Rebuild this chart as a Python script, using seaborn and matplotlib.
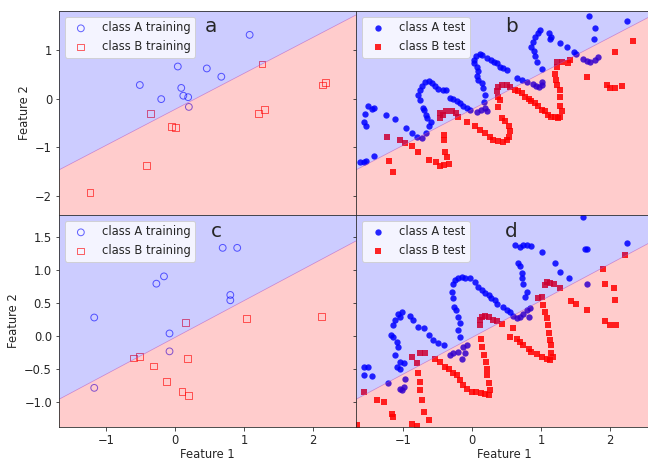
import numpy as np
import matplotlib
matplotlib.use("Agg")
import matplotlib.pyplot as plt
import seaborn as sns

# ---- training sets (Feature 1, Feature 2) ----
train_a_A_x = [-0.51, -0.20, 0.04, 0.09, 0.12, 0.19, 0.20, 0.46, 0.67, 1.08]
train_a_A_y = [0.28, -0.01, 0.66, 0.22, 0.06, 0.03, -0.17, 0.62, 0.45, 1.31]
train_a_B_x = [-1.23, -0.41, -0.35, -0.05, 0.01, 1.26, 1.21, 1.29, 2.14, 2.18]
train_a_B_y = [-1.92, -1.37, -0.31, -0.57, -0.59, 0.71, -0.31, -0.23, 0.28, 0.33]

train_c_A_x = [-1.17, -1.17, -0.27, -0.16, -0.08, -0.08, 0.69, 0.90, 0.80, 0.80]
train_c_A_y = [0.28, -0.78, 0.79, 0.90, 0.04, -0.23, 1.33, 1.33, 0.62, 0.54]
train_c_B_x = [-0.60, -0.52, -0.31, -0.12, 0.10, 0.20, 0.15, 0.18, 1.04, 2.12]
train_c_B_y = [-0.33, -0.31, -0.45, -0.68, -0.84, -0.89, 0.20, -0.34, 0.27, 0.30]

# ---- test sets (Feature 1, Feature 2) ----
test_b_A = [
    (-1.62, -1.30), (-1.56, -1.30), (-1.53, -1.29), (-1.42, -1.17),
    (-1.55, -0.32), (-1.57, -0.47), (-1.53, -0.57), (-1.50, -0.16), (-1.45, -0.22),
    (-1.42, -0.20), (-1.25, -0.33), (-1.12, -0.42), (-0.96, -0.61), (-0.87, -0.70),
    (-0.80, -0.78), (-0.73, -0.80), (-0.67, -0.71), (-0.62, -0.57), (-0.60, -0.47),
    (-0.69, -0.24), (-0.67, -0.33), (-0.65, -0.40), (-0.71, -0.20), (-0.76, -0.02),
    (-0.78, 0.08), (-0.75, 0.18), (-0.73, 0.26), (-0.68, 0.35), (-0.63, 0.37),
    (-0.58, 0.33), (-0.54, 0.26), (-0.49, 0.19), (-0.42, 0.17), (-0.37, 0.18),
    (-0.32, 0.01), (-0.27, -0.01), (-0.22, -0.04), (-0.17, -0.09), (-0.13, -0.15),
    (-0.08, -0.20), (-0.03, -0.23), (0.07, -0.28), (0.13, -0.23), (0.19, -0.20),
    (0.21, -0.26), (0.17, -0.06), (0.19, 0.08), (0.16, 0.21), (0.14, 0.32),
    (0.09, 0.39), (0.07, 0.47), (0.08, 0.56), (0.07, 0.66), (0.03, 0.73),
    (0.03, 0.80), (0.06, 0.87), (0.11, 0.92), (0.15, 0.90), (0.21, 0.83),
    (0.27, 0.80), (0.32, 0.76), (0.36, 0.73), (0.41, 0.66), (0.45, 0.63),
    (0.50, 0.59), (0.65, 0.42), (0.72, 0.39), (0.79, 0.35), (0.88, 0.30),
    (0.93, 0.26), (0.97, 0.24), (1.01, 0.28), (1.02, 0.35), (1.01, 0.61),
    (0.94, 0.76), (0.91, 0.88), (0.89, 0.97), (0.86, 1.07), (0.88, 1.17),
    (0.91, 1.26), (0.95, 1.34), (0.99, 1.40), (1.12, 1.34), (1.15, 1.26),
    (1.13, 1.22), (1.27, 1.15), (1.38, 1.07), (1.47, 0.95), (1.51, 0.92),
    (1.61, 0.81), (1.66, 0.78), (1.71, 0.76), (1.78, 0.80), (1.83, 0.85),
    (1.77, 1.22), (1.78, 1.45), (1.70, 1.70), (2.24, 1.60),
]
test_b_B = [
    (-1.23, -0.79), (-1.20, -1.28), (-1.15, -1.50), (-1.05, -0.85), (-0.97, -0.91),
    (-0.87, -0.98), (-0.78, -1.09), (-0.63, -1.26), (-0.52, -1.31), (-0.46, -1.39),
    (-0.41, -1.36), (-0.33, -1.34), (-0.36, -1.19), (-0.39, -1.09), (-0.40, -0.85),
    (-0.40, -0.74), (-0.47, -0.40), (-0.42, -0.33), (-0.37, -0.26), (-0.29, -0.26),
    (-0.23, -0.30), (-0.20, -0.37), (-0.46, -0.30), (-0.08, -0.47), (0.04, -0.57),
    (0.12, -0.64), (0.19, -0.71), (0.26, -0.78), (0.31, -0.85), (0.38, -0.88),
    (0.45, -0.90), (0.50, -0.85), (0.54, -0.78), (0.55, -0.67), (0.53, -0.56),
    (0.48, -0.45), (0.43, -0.40), (0.38, -0.18), (0.41, -0.02), (0.38, 0.04),
    (0.36, 0.15), (0.38, 0.24), (0.44, 0.28), (0.50, 0.28), (0.55, 0.24),
    (0.62, 0.18), (0.67, 0.15), (0.72, 0.11), (0.77, 0.04), (0.82, -0.01),
    (0.86, -0.05), (0.91, -0.09), (0.96, -0.16), (1.01, -0.23), (1.06, -0.26),
    (1.10, -0.33), (1.15, -0.37), (1.20, -0.38), (1.25, -0.40), (1.28, -0.37),
    (1.30, -0.26), (1.28, -0.16), (1.27, 0.04), (1.28, 0.18), (1.23, 0.28),
    (1.22, 0.39), (1.20, 0.51), (1.23, 0.66), (1.23, 0.76), (1.30, 0.76),
    (1.39, 0.73), (1.42, 0.80), (1.67, 0.45), (2.07, 0.95), (2.33, 1.19),
    (1.95, 0.28), (2.00, 0.21), (2.07, 0.21), (2.17, 0.26),
]
test_d_A = [
    (-1.56, -0.46), (-1.50, -0.46), (-1.57, -0.59), (-1.45, -0.60), (-1.21, -0.70),
    (-1.05, -0.80), (-0.99, -0.76), (-1.02, -0.81), (-0.97, -0.64), (-1.11, 0.24),
    (-1.07, 0.34), (-1.02, 0.37), (-1.04, 0.29), (-1.14, 0.17), (-1.18, 0.02),
    (-1.14, -0.01), (-1.09, -0.09), (-1.07, -0.16), (-1.11, -0.29), (-1.04, -0.39),
    (-0.99, -0.41), (-1.05, -0.49), (-1.09, -0.46), (-0.90, 0.30), (-0.85, 0.24),
    (-0.78, 0.14), (-0.70, 0.12), (-0.63, 0.02), (-0.56, -0.06), (-0.50, -0.10),
    (-0.41, -0.14), (-0.32, -0.29), (-0.27, -0.26), (-0.20, -0.24), (-0.13, -0.16),
    (-0.08, -0.14), (-0.10, -0.26), (-0.15, -0.34), (-0.17, -0.01), (-0.20, 0.09),
    (-0.17, 0.19), (-0.20, 0.29), (-0.23, 0.39), (-0.26, 0.44), (-0.27, 0.57),
    (-0.29, 0.67), (-0.27, 0.79), (-0.25, 0.84), (-0.20, 0.87), (-0.15, 0.89),
    (-0.10, 0.87), (-0.03, 0.87), (0.04, 0.82), (0.09, 0.74), (0.14, 0.69),
    (0.19, 0.65), (0.24, 0.62), (0.28, 0.58), (0.33, 0.54), (0.36, 0.49),
    (0.45, 0.44), (0.50, 0.39), (0.55, 0.37), (0.60, 0.30), (0.65, 0.27),
    (0.69, 0.29), (0.74, 0.34), (0.79, 0.39), (0.84, 0.42), (0.82, 0.29),
    (0.77, 0.59), (0.79, 0.67), (0.74, 0.79), (0.72, 0.87), (0.73, 0.95),
    (0.69, 1.05), (0.67, 1.10), (0.62, 1.37), (0.69, 1.35), (0.74, 1.37),
    (0.79, 1.37), (0.86, 1.36), (1.01, 1.26), (1.20, 1.10), (1.28, 0.96),
    (1.41, 0.88), (1.64, 1.31), (1.66, 1.32), (1.66, 0.79), (1.60, 1.79),
    (2.24, 1.41),
]
test_d_B = [
    (-1.67, -1.34), (-1.56, -0.84), (-1.38, -0.96), (-1.28, -0.99), (-1.16, -1.17),
    (-1.14, -1.22), (-0.87, -0.31), (-0.80, -0.41), (-0.75, -0.26), (-0.68, -0.26),
    (-0.78, -0.56), (-0.75, -0.69), (-0.75, -0.81), (-0.73, -0.97), (-0.70, -1.14),
    (-0.63, -1.26), (-0.87, -1.32), (-0.80, -1.36), (-0.54, -0.34), (-0.46, -0.39),
    (-0.39, -0.46), (-0.33, -0.50), (-0.27, -0.56), (-0.22, -0.59), (-0.17, -0.66),
    (-0.13, -0.74), (-0.07, -0.79), (0.00, -0.84), (0.06, -0.85), (0.13, -0.86),
    (0.19, -0.87), (0.25, -0.89), (0.26, -0.81), (0.24, -0.71), (0.22, -0.59),
    (0.21, -0.49), (0.20, -0.39), (0.17, -0.29), (0.15, -0.16), (0.13, -0.04),
    (0.12, 0.17), (0.11, 0.24), (0.14, 0.29), (0.19, 0.30), (0.24, 0.29),
    (0.30, 0.25), (0.36, 0.22), (0.43, 0.18), (0.60, 0.12), (0.55, -0.01),
    (0.65, -0.04), (0.69, -0.09), (0.74, -0.14), (0.82, -0.19), (0.86, -0.24),
    (0.94, -0.27), (1.01, -0.31), (1.08, -0.35), (1.13, -0.36), (1.17, -0.31),
    (1.15, -0.26), (1.15, -0.14), (1.13, -0.06), (1.12, 0.04), (1.10, 0.17),
    (1.08, 0.27), (1.06, 0.37), (1.03, 0.47), (1.01, 0.59), (0.96, 0.58),
    (1.06, 0.77), (1.08, 0.82), (1.13, 0.80), (1.19, 0.79), (1.28, 0.72),
    (1.44, 0.53), (1.51, 0.49), (1.67, 0.39), (1.92, 0.22), (2.00, 0.17),
    (2.09, 0.17), (1.92, 0.79), (2.05, 0.73), (2.07, 0.54), (1.90, 1.01),
    (2.21, 1.22),
]

# linear decision boundaries: Feature 2 = slope * Feature 1 + intercept
boundary_top = (0.74, -0.22)
boundary_bottom = (0.555, -0.02)

xlim = (-1.68, 2.62)
ylim_top = (-2.39, 1.80)
ylim_bottom = (-1.37, 1.825)

FS = 11.5

sns.set_style("ticks")
plt.rcParams.update({
    "font.family": ["DejaVu Sans"],
    "axes.linewidth": 0.8,
    "axes.edgecolor": "0.15",
    "xtick.major.size": 3.5,
    "ytick.major.size": 3.5,
    "xtick.major.width": 0.8,
    "ytick.major.width": 0.8,
    "xtick.labelsize": FS,
    "ytick.labelsize": FS,
    "axes.labelsize": FS,
    "legend.fontsize": FS,
    "legend.framealpha": 0.8,
    "legend.edgecolor": "0.8",
    "legend.fancybox": True,
})

W, H = 648, 459
fig = plt.figure(figsize=(W / 72, H / 72), dpi=72)


def box(left, top, w, h):
    return [left / W, 1 - (top + h) / H, w / W, h / H]


ax_a = fig.add_axes(box(59, 11, 297, 204))
ax_b = fig.add_axes(box(356, 11, 297, 204))
ax_c = fig.add_axes(box(59, 215, 297, 212))
ax_d = fig.add_axes(box(356, 215, 297, 212))


def shade(ax, boundary, ylim):
    slope, intercept = boundary
    gx, gy = np.meshgrid(np.linspace(xlim[0], xlim[1], 500),
                         np.linspace(ylim[0], ylim[1], 500))
    score = gy - (slope * gx + intercept)
    ax.contourf(gx, gy, score, levels=[-100, 0, 100],
                colors=["red", "blue"], alpha=0.2, antialiased=True)
    ax.contour(gx, gy, score, levels=[0], colors=["#b050c0"],
               linewidths=0.7, alpha=0.6)


def training_panel(ax, ax_x, ax_y, bx, by):
    sns.scatterplot(x=ax_x, y=ax_y, ax=ax, marker="o", s=46, color="blue",
                    facecolor="none", edgecolor="blue", linewidth=1.0,
                    alpha=0.6, label="class A training")
    sns.scatterplot(x=bx, y=by, ax=ax, marker="s", s=46, color="red",
                    facecolor="none", edgecolor="red", linewidth=1.0,
                    alpha=0.6, label="class B training")


def test_panel(ax, pts_a, pts_b):
    ax_x, ax_y = zip(*pts_a)
    bx, by = zip(*pts_b)
    sns.scatterplot(x=list(ax_x), y=list(ax_y), ax=ax, marker="o", s=40,
                    color="blue", linewidth=0, alpha=0.85,
                    label="class A test")
    sns.scatterplot(x=list(bx), y=list(by), ax=ax, marker="s", s=36,
                    color="red", linewidth=0, alpha=0.85,
                    label="class B test")


training_panel(ax_a, train_a_A_x, train_a_A_y, train_a_B_x, train_a_B_y)
test_panel(ax_b, test_b_A, test_b_B)
training_panel(ax_c, train_c_A_x, train_c_A_y, train_c_B_x, train_c_B_y)
test_panel(ax_d, test_d_A, test_d_B)

panels = [
    (ax_a, boundary_top, ylim_top, "a", 0.492),
    (ax_b, boundary_top, ylim_top, "b", 0.503),
    (ax_c, boundary_bottom, ylim_bottom, "c", 0.51),
    (ax_d, boundary_bottom, ylim_bottom, "d", 0.50),
]
for ax, boundary, ylim, letter, lx in panels:
    shade(ax, boundary, ylim)
    ax.set_xlim(xlim)
    ax.set_ylim(ylim)
    ax.set_xticks([-1, 0, 1, 2])
    ax.legend(loc="upper left")
    ax.text(lx, 0.895, letter, transform=ax.transAxes, fontsize=20,
            ha="left", va="baseline")
    for side in ["top", "right", "left", "bottom"]:
        ax.spines[side].set_visible(True)

ax_a.set_yticks([-2, -1, 0, 1])
ax_c.set_yticks([-1.0, -0.5, 0.0, 0.5, 1.0, 1.5])
ax_b.set_yticks([-2, -1, 0, 1])
ax_d.set_yticks([-1.0, -0.5, 0.0, 0.5, 1.0, 1.5])

for ax in (ax_a, ax_b):
    ax.tick_params(labelbottom=False)
for ax in (ax_b, ax_d):
    ax.tick_params(labelleft=False)

ax_a.set_ylabel("Feature 2")
ax_c.set_ylabel("Feature 2")
ax_c.set_xlabel("Feature 1", labelpad=0.5)
ax_d.set_xlabel("Feature 1", labelpad=0.5)

fig.savefig("out.png", dpi=72)
